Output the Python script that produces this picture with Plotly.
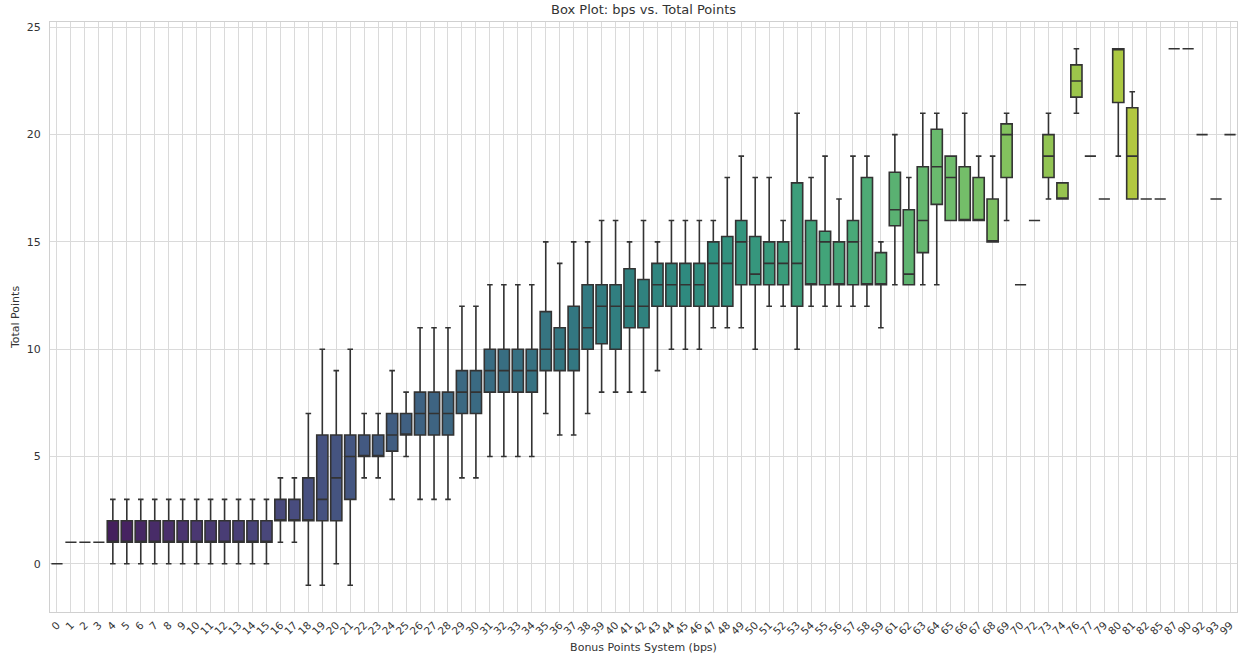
import colorsys
import plotly.graph_objects as go
from plotly.colors import sample_colorscale, unlabel_rgb

# ---- data ----
bps = list(range(0, 60)) + list(range(61, 71)) + [72, 73, 74, 76, 77, 79, 80, 81, 82, 85, 87, 90, 92, 93, 99]

lower = ([0, 1, 1, 1] + [0] * 12 +
         [1, 1, -1, -1, 0, -1, 4, 4, 3, 5, 3, 3, 3, 4, 4, 5, 5, 5, 5, 7, 6, 6, 7, 8, 8, 8, 8, 9, 10, 10, 10,
          11, 11, 11, 10, 12, 12, 10, 12, 12, 12, 12, 12, 11,
          13, 13, 13, 13, 16, 16, 16, 15, 16, 13,
          16, 17, 17, 21, 19, 17, 19, 17, 17, 17, 24, 24, 20, 17, 20])
q1 = ([0, 1, 1, 1] + [1] * 12 +
      [2, 2, 2, 2, 2, 3, 5, 5, 5.25, 6, 6, 6, 6, 7, 7, 8, 8, 8, 8, 9, 9, 9, 10, 10.25, 10, 11, 11, 12, 12, 12, 12,
       12, 12, 13, 13, 13, 13, 12, 13, 13, 13, 13, 13, 13,
       15.75, 13, 14.5, 16.75, 16, 16, 16, 15, 18, 13,
       16, 18, 17, 21.75, 19, 17, 21.5, 17, 17, 17, 24, 24, 20, 17, 20])
median = ([0, 1, 1, 1] + [1] * 12 +
          [2, 2, 2, 3, 4, 5, 5, 5, 6, 6, 7, 7, 7, 8, 8, 9, 9, 9, 9, 10, 10, 10, 11, 12, 12, 12, 12, 13, 13, 13, 13,
           14, 14, 15, 13.5, 14, 14, 14, 13, 15, 13, 15, 13, 13,
           16.5, 13.5, 16, 18.5, 18, 16, 16, 15, 20, 13,
           16, 19, 17, 22.5, 19, 17, 24, 19, 17, 17, 24, 24, 20, 17, 20])
q3 = ([0, 1, 1, 1] + [2] * 12 +
      [3, 3, 4, 6, 6, 6, 6, 6, 7, 7, 8, 8, 8, 9, 9, 10, 10, 10, 10, 11.75, 11, 12, 13, 13, 13, 13.75, 13.25, 14, 14, 14, 14,
       15, 15.25, 16, 15.25, 15, 15, 17.75, 16, 15.5, 15, 16, 18, 14.5,
       18.25, 16.5, 18.5, 20.25, 19, 18.5, 18, 17, 20.5, 13,
       16, 20, 17.75, 23.25, 19, 17, 24, 21.25, 17, 17, 24, 24, 20, 17, 20])
upper = ([0, 1, 1, 1] + [3] * 12 +
         [4, 4, 7, 10, 9, 10, 7, 7, 9, 8, 11, 11, 11, 12, 12, 13, 13, 13, 13, 15, 14, 15, 15, 16, 16, 15, 16, 15, 16, 16, 16,
          16, 18, 19, 18, 18, 16, 21, 18, 19, 17, 19, 19, 15,
          20, 18, 21, 21, 19, 21, 19, 19, 21, 13,
          16, 21, 17.75, 24, 19, 17, 24, 22, 17, 17, 24, 24, 20, 17, 20])

labels = [str(b) for b in bps]
n = len(bps)

# seaborn-like viridis palette with saturation 0.75
positions = [(i + 1) / (n + 1) for i in range(n)]
raw = sample_colorscale("Viridis", positions)


def desat(c, s=0.75):
    r, g, b = [v / 255 for v in unlabel_rgb(c)]
    h, l, sat = colorsys.rgb_to_hls(r, g, b)
    r, g, b = colorsys.hls_to_rgb(h, l, sat * s)
    return "rgb(%d,%d,%d)" % (round(r * 255), round(g * 255), round(b * 255))


colors = [desat(c) for c in raw]
edge = "#333333"

fig = go.Figure()
for i in range(n):
    fig.add_trace(go.Box(
        x=[labels[i]], q1=[q1[i]], median=[median[i]], q3=[q3[i]],
        lowerfence=[lower[i]], upperfence=[upper[i]],
        fillcolor=colors[i], line=dict(color=edge, width=1.6),
        width=0.8, whiskerwidth=0.5, boxpoints=False, showlegend=False,
        hoverinfo="skip",
    ))

font = "DejaVu Sans, Arial, sans-serif"
fig.update_layout(
    width=1239, height=654,
    margin=dict(l=50, r=2, t=22, b=42),
    paper_bgcolor="white", plot_bgcolor="white",
    boxmode="overlay",
    font=dict(family=font, size=11, color="#333333"),
    title=dict(text="Box Plot: bps vs. Total Points", x=0.5, xref="paper", xanchor="center",
               y=1 - 9 / 654, yref="container", yanchor="middle",
               font=dict(family=font, size=13, color="#333333")),
)
fig.update_xaxes(
    type="category", categoryorder="array", categoryarray=labels,
    range=[-0.5, n - 0.5], tickangle=-45, tickfont=dict(size=10.5),
    showgrid=True, gridcolor="#dadada", gridwidth=1,
    showline=True, linecolor="#d0d0d0", mirror=True, zeroline=False,
    ticks="", ticklabelstandoff=2, automargin=False,
    title=dict(text="Bonus Points System (bps)", font=dict(size=11), standoff=8),
)
fig.update_yaxes(
    range=[-2.25, 25.25], tickvals=[0, 5, 10, 15, 20, 25],
    showgrid=True, gridcolor="#dadada", gridwidth=1,
    showline=True, linecolor="#d0d0d0", mirror=True, zeroline=False,
    ticks="", ticklabelstandoff=6, automargin=False,
    title=dict(text="Total Points", font=dict(size=11), standoff=4),
)

fig.write_html("out.html", config={"displayModeBar": False},
               post_script="document.body.style.margin='0';document.body.style.overflow='hidden';")
